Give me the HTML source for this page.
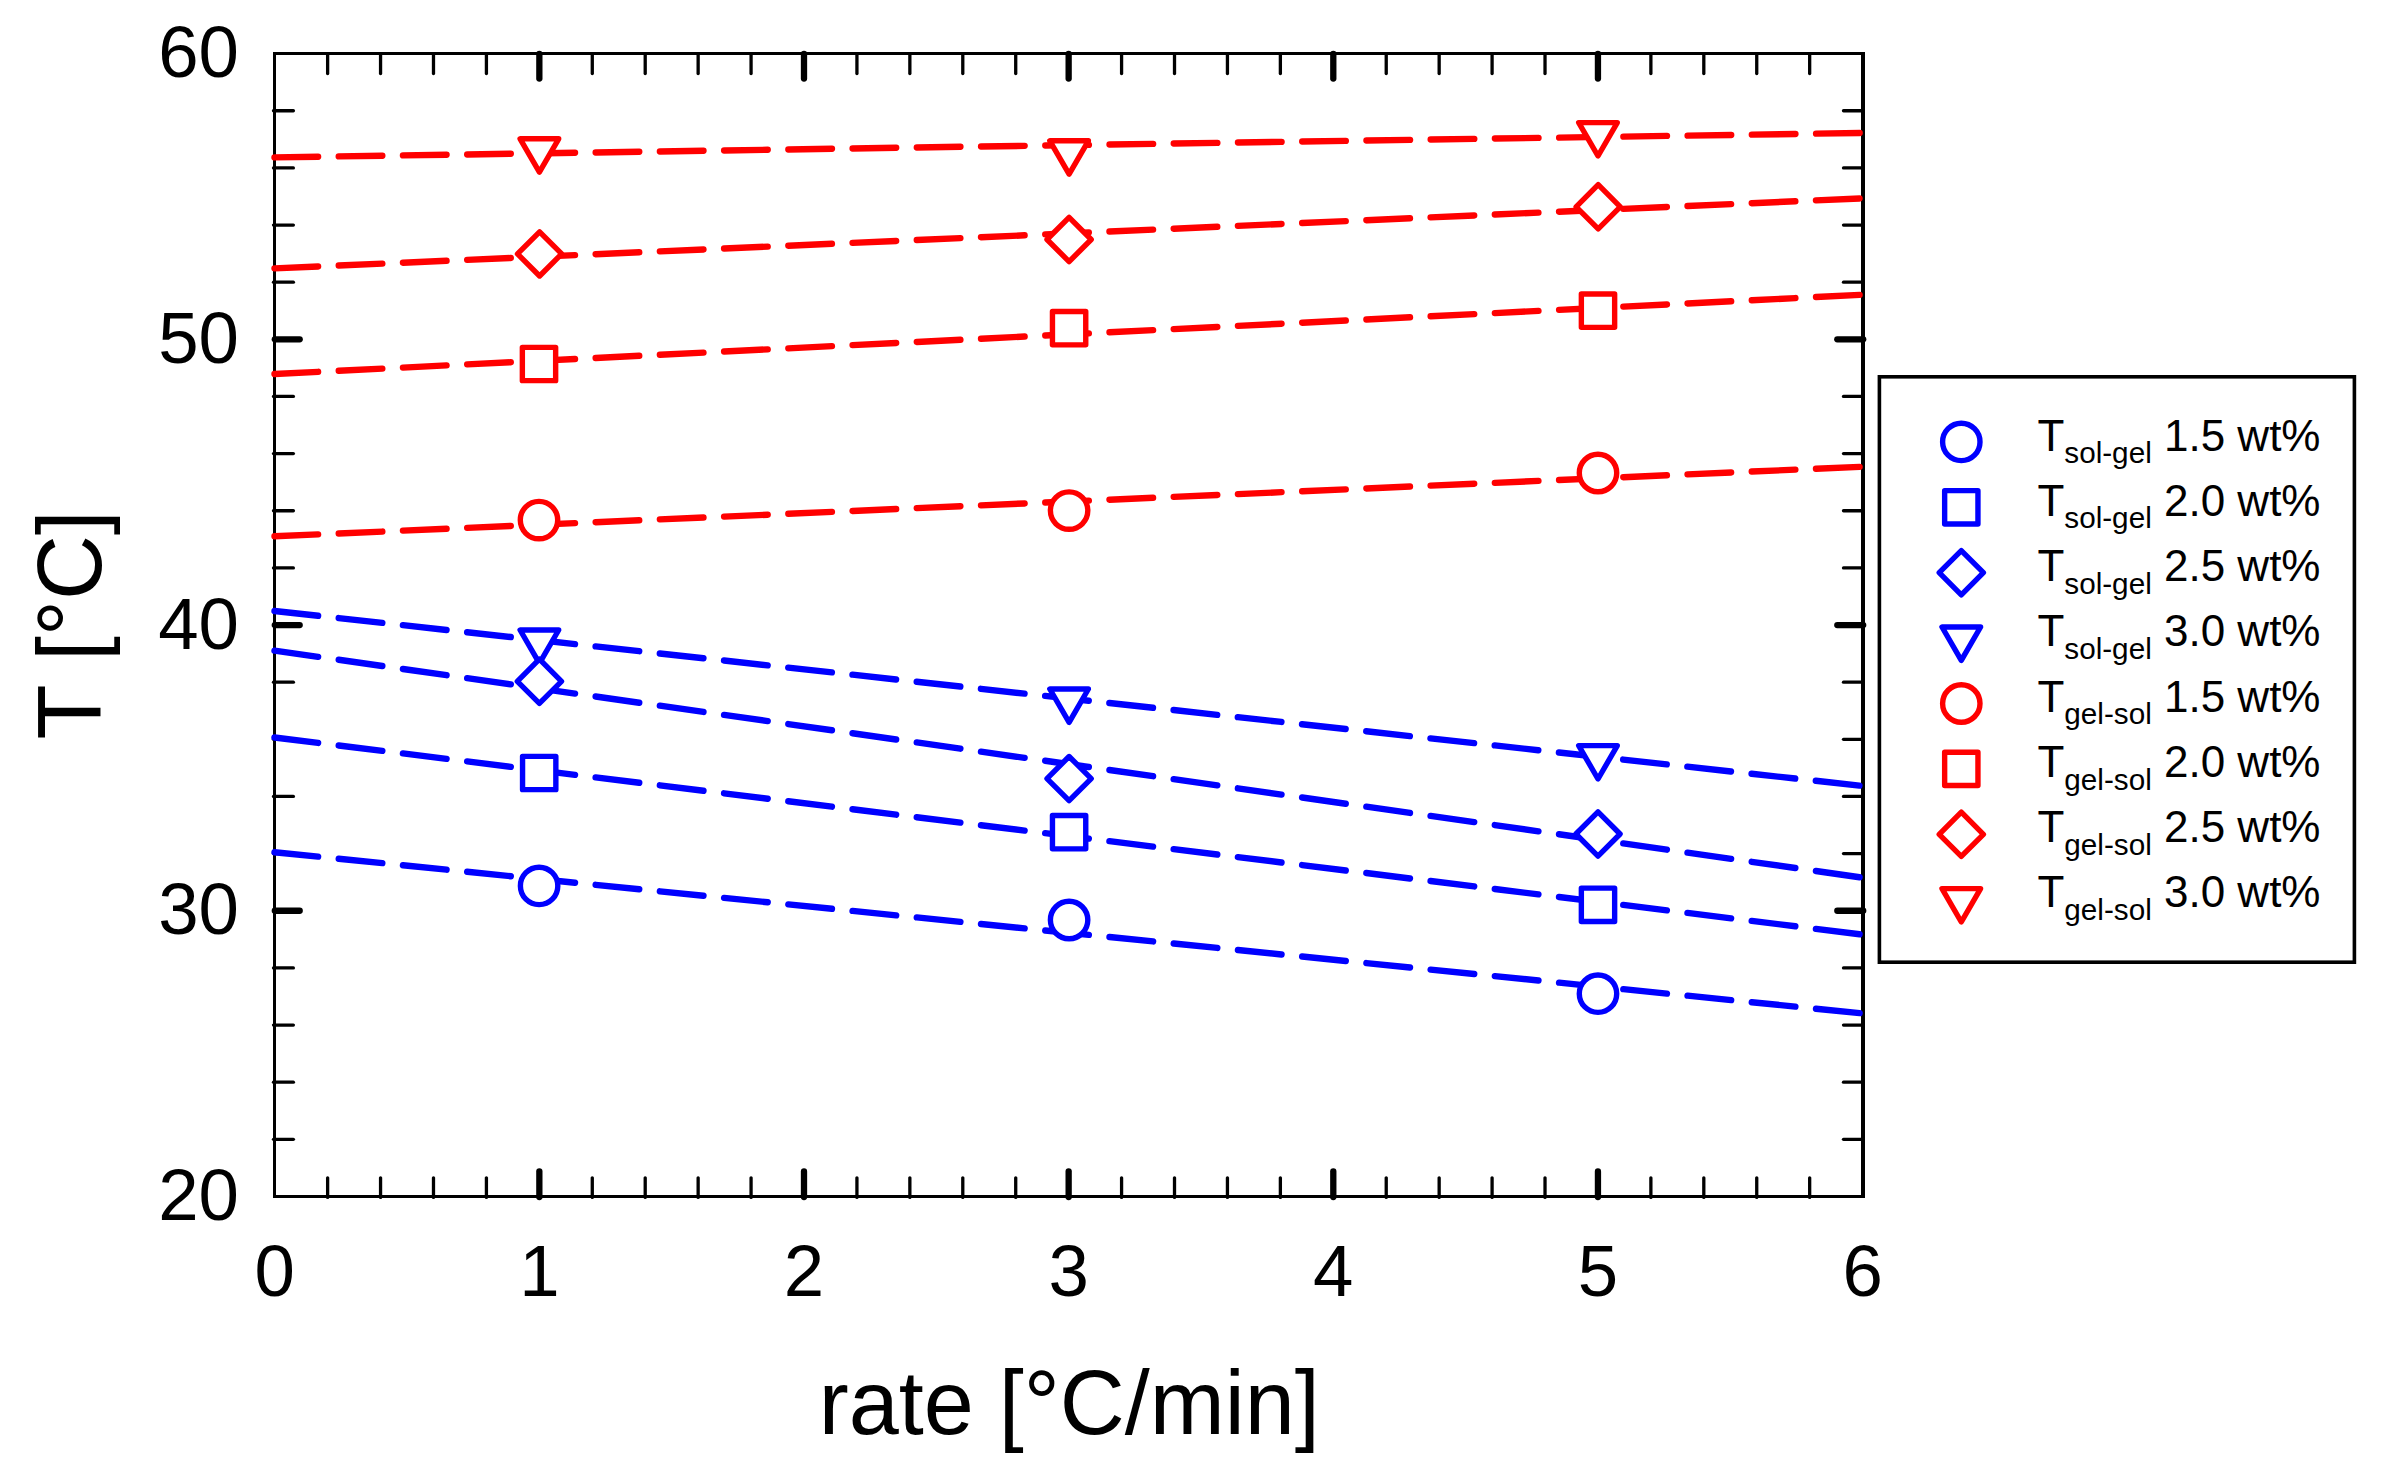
<!DOCTYPE html>
<html lang="en"><head><meta charset="utf-8"><title>T vs rate</title>
<style>html,body{margin:0;padding:0;background:#fff;}body{width:2383px;height:1473px;overflow:hidden;}svg{display:block;}text{font-family:"Liberation Sans", sans-serif;fill:#000;}</style></head><body>
<svg width="2383" height="1473" viewBox="0 0 2383 1473">
<rect x="0" y="0" width="2383" height="1473" fill="#ffffff"/>
<g stroke="#000" stroke-linecap="round" fill="none">
<line x1="327.63" y1="1197.40" x2="327.63" y2="1177.80" stroke-width="3.3"/>
<line x1="327.63" y1="54.10" x2="327.63" y2="73.50" stroke-width="3.3"/>
<line x1="380.56" y1="1197.40" x2="380.56" y2="1177.80" stroke-width="3.3"/>
<line x1="380.56" y1="54.10" x2="380.56" y2="73.50" stroke-width="3.3"/>
<line x1="433.49" y1="1197.40" x2="433.49" y2="1177.80" stroke-width="3.3"/>
<line x1="433.49" y1="54.10" x2="433.49" y2="73.50" stroke-width="3.3"/>
<line x1="486.42" y1="1197.40" x2="486.42" y2="1177.80" stroke-width="3.3"/>
<line x1="486.42" y1="54.10" x2="486.42" y2="73.50" stroke-width="3.3"/>
<line x1="539.35" y1="1197.00" x2="539.35" y2="1171.50" stroke-width="6.3"/>
<line x1="539.35" y1="53.90" x2="539.35" y2="78.50" stroke-width="6.3"/>
<line x1="592.28" y1="1197.40" x2="592.28" y2="1177.80" stroke-width="3.3"/>
<line x1="592.28" y1="54.10" x2="592.28" y2="73.50" stroke-width="3.3"/>
<line x1="645.21" y1="1197.40" x2="645.21" y2="1177.80" stroke-width="3.3"/>
<line x1="645.21" y1="54.10" x2="645.21" y2="73.50" stroke-width="3.3"/>
<line x1="698.14" y1="1197.40" x2="698.14" y2="1177.80" stroke-width="3.3"/>
<line x1="698.14" y1="54.10" x2="698.14" y2="73.50" stroke-width="3.3"/>
<line x1="751.07" y1="1197.40" x2="751.07" y2="1177.80" stroke-width="3.3"/>
<line x1="751.07" y1="54.10" x2="751.07" y2="73.50" stroke-width="3.3"/>
<line x1="804.00" y1="1197.00" x2="804.00" y2="1171.50" stroke-width="6.3"/>
<line x1="804.00" y1="53.90" x2="804.00" y2="78.50" stroke-width="6.3"/>
<line x1="856.93" y1="1197.40" x2="856.93" y2="1177.80" stroke-width="3.3"/>
<line x1="856.93" y1="54.10" x2="856.93" y2="73.50" stroke-width="3.3"/>
<line x1="909.86" y1="1197.40" x2="909.86" y2="1177.80" stroke-width="3.3"/>
<line x1="909.86" y1="54.10" x2="909.86" y2="73.50" stroke-width="3.3"/>
<line x1="962.79" y1="1197.40" x2="962.79" y2="1177.80" stroke-width="3.3"/>
<line x1="962.79" y1="54.10" x2="962.79" y2="73.50" stroke-width="3.3"/>
<line x1="1015.72" y1="1197.40" x2="1015.72" y2="1177.80" stroke-width="3.3"/>
<line x1="1015.72" y1="54.10" x2="1015.72" y2="73.50" stroke-width="3.3"/>
<line x1="1068.65" y1="1197.00" x2="1068.65" y2="1171.50" stroke-width="6.3"/>
<line x1="1068.65" y1="53.90" x2="1068.65" y2="78.50" stroke-width="6.3"/>
<line x1="1121.58" y1="1197.40" x2="1121.58" y2="1177.80" stroke-width="3.3"/>
<line x1="1121.58" y1="54.10" x2="1121.58" y2="73.50" stroke-width="3.3"/>
<line x1="1174.51" y1="1197.40" x2="1174.51" y2="1177.80" stroke-width="3.3"/>
<line x1="1174.51" y1="54.10" x2="1174.51" y2="73.50" stroke-width="3.3"/>
<line x1="1227.44" y1="1197.40" x2="1227.44" y2="1177.80" stroke-width="3.3"/>
<line x1="1227.44" y1="54.10" x2="1227.44" y2="73.50" stroke-width="3.3"/>
<line x1="1280.37" y1="1197.40" x2="1280.37" y2="1177.80" stroke-width="3.3"/>
<line x1="1280.37" y1="54.10" x2="1280.37" y2="73.50" stroke-width="3.3"/>
<line x1="1333.30" y1="1197.00" x2="1333.30" y2="1171.50" stroke-width="6.3"/>
<line x1="1333.30" y1="53.90" x2="1333.30" y2="78.50" stroke-width="6.3"/>
<line x1="1386.23" y1="1197.40" x2="1386.23" y2="1177.80" stroke-width="3.3"/>
<line x1="1386.23" y1="54.10" x2="1386.23" y2="73.50" stroke-width="3.3"/>
<line x1="1439.16" y1="1197.40" x2="1439.16" y2="1177.80" stroke-width="3.3"/>
<line x1="1439.16" y1="54.10" x2="1439.16" y2="73.50" stroke-width="3.3"/>
<line x1="1492.09" y1="1197.40" x2="1492.09" y2="1177.80" stroke-width="3.3"/>
<line x1="1492.09" y1="54.10" x2="1492.09" y2="73.50" stroke-width="3.3"/>
<line x1="1545.02" y1="1197.40" x2="1545.02" y2="1177.80" stroke-width="3.3"/>
<line x1="1545.02" y1="54.10" x2="1545.02" y2="73.50" stroke-width="3.3"/>
<line x1="1597.95" y1="1197.00" x2="1597.95" y2="1171.50" stroke-width="6.3"/>
<line x1="1597.95" y1="53.90" x2="1597.95" y2="78.50" stroke-width="6.3"/>
<line x1="1650.88" y1="1197.40" x2="1650.88" y2="1177.80" stroke-width="3.3"/>
<line x1="1650.88" y1="54.10" x2="1650.88" y2="73.50" stroke-width="3.3"/>
<line x1="1703.81" y1="1197.40" x2="1703.81" y2="1177.80" stroke-width="3.3"/>
<line x1="1703.81" y1="54.10" x2="1703.81" y2="73.50" stroke-width="3.3"/>
<line x1="1756.74" y1="1197.40" x2="1756.74" y2="1177.80" stroke-width="3.3"/>
<line x1="1756.74" y1="54.10" x2="1756.74" y2="73.50" stroke-width="3.3"/>
<line x1="1809.67" y1="1197.40" x2="1809.67" y2="1177.80" stroke-width="3.3"/>
<line x1="1809.67" y1="54.10" x2="1809.67" y2="73.50" stroke-width="3.3"/>
<line x1="273.50" y1="1139.34" x2="293.40" y2="1139.34" stroke-width="3.3"/>
<line x1="1863.00" y1="1139.34" x2="1843.50" y2="1139.34" stroke-width="3.3"/>
<line x1="273.50" y1="1082.19" x2="293.40" y2="1082.19" stroke-width="3.3"/>
<line x1="1863.00" y1="1082.19" x2="1843.50" y2="1082.19" stroke-width="3.3"/>
<line x1="273.50" y1="1025.05" x2="293.40" y2="1025.05" stroke-width="3.3"/>
<line x1="1863.00" y1="1025.05" x2="1843.50" y2="1025.05" stroke-width="3.3"/>
<line x1="273.50" y1="967.90" x2="293.40" y2="967.90" stroke-width="3.3"/>
<line x1="1863.00" y1="967.90" x2="1843.50" y2="967.90" stroke-width="3.3"/>
<line x1="274.80" y1="910.76" x2="299.70" y2="910.76" stroke-width="6.3"/>
<line x1="1863.20" y1="910.76" x2="1837.30" y2="910.76" stroke-width="6.3"/>
<line x1="273.50" y1="853.62" x2="293.40" y2="853.62" stroke-width="3.3"/>
<line x1="1863.00" y1="853.62" x2="1843.50" y2="853.62" stroke-width="3.3"/>
<line x1="273.50" y1="796.47" x2="293.40" y2="796.47" stroke-width="3.3"/>
<line x1="1863.00" y1="796.47" x2="1843.50" y2="796.47" stroke-width="3.3"/>
<line x1="273.50" y1="739.33" x2="293.40" y2="739.33" stroke-width="3.3"/>
<line x1="1863.00" y1="739.33" x2="1843.50" y2="739.33" stroke-width="3.3"/>
<line x1="273.50" y1="682.18" x2="293.40" y2="682.18" stroke-width="3.3"/>
<line x1="1863.00" y1="682.18" x2="1843.50" y2="682.18" stroke-width="3.3"/>
<line x1="274.80" y1="625.04" x2="299.70" y2="625.04" stroke-width="6.3"/>
<line x1="1863.20" y1="625.04" x2="1837.30" y2="625.04" stroke-width="6.3"/>
<line x1="273.50" y1="567.90" x2="293.40" y2="567.90" stroke-width="3.3"/>
<line x1="1863.00" y1="567.90" x2="1843.50" y2="567.90" stroke-width="3.3"/>
<line x1="273.50" y1="510.75" x2="293.40" y2="510.75" stroke-width="3.3"/>
<line x1="1863.00" y1="510.75" x2="1843.50" y2="510.75" stroke-width="3.3"/>
<line x1="273.50" y1="453.61" x2="293.40" y2="453.61" stroke-width="3.3"/>
<line x1="1863.00" y1="453.61" x2="1843.50" y2="453.61" stroke-width="3.3"/>
<line x1="273.50" y1="396.46" x2="293.40" y2="396.46" stroke-width="3.3"/>
<line x1="1863.00" y1="396.46" x2="1843.50" y2="396.46" stroke-width="3.3"/>
<line x1="274.80" y1="339.32" x2="299.70" y2="339.32" stroke-width="6.3"/>
<line x1="1863.20" y1="339.32" x2="1837.30" y2="339.32" stroke-width="6.3"/>
<line x1="273.50" y1="282.18" x2="293.40" y2="282.18" stroke-width="3.3"/>
<line x1="1863.00" y1="282.18" x2="1843.50" y2="282.18" stroke-width="3.3"/>
<line x1="273.50" y1="225.03" x2="293.40" y2="225.03" stroke-width="3.3"/>
<line x1="1863.00" y1="225.03" x2="1843.50" y2="225.03" stroke-width="3.3"/>
<line x1="273.50" y1="167.89" x2="293.40" y2="167.89" stroke-width="3.3"/>
<line x1="1863.00" y1="167.89" x2="1843.50" y2="167.89" stroke-width="3.3"/>
<line x1="273.50" y1="110.74" x2="293.40" y2="110.74" stroke-width="3.3"/>
<line x1="1863.00" y1="110.74" x2="1843.50" y2="110.74" stroke-width="3.3"/>
</g>
<g stroke="#000" fill="none" stroke-linecap="butt">
<line x1="274.50" y1="52.00" x2="274.50" y2="1198.00" stroke-width="3"/>
<line x1="1863.00" y1="52.00" x2="1863.00" y2="1198.00" stroke-width="4"/>
<line x1="273.00" y1="53.50" x2="1865.00" y2="53.50" stroke-width="3"/>
<line x1="273.00" y1="1196.50" x2="1865.00" y2="1196.50" stroke-width="3"/>
</g>
<clipPath id="lc"><rect x="260" y="40" width="1603.10" height="1170"/></clipPath>
<g fill="none" stroke-linecap="round" stroke-width="6.4" clip-path="url(#lc)">
<line x1="274.50" y1="157.40" x2="1875.00" y2="132.71" stroke="#ff0000" stroke-dasharray="43.61 20.63"/>
<line x1="274.50" y1="268.40" x2="1875.00" y2="197.77" stroke="#ff0000" stroke-dasharray="43.64 20.65"/>
<line x1="274.50" y1="374.00" x2="1875.00" y2="294.10" stroke="#ff0000" stroke-dasharray="43.65 20.66"/>
<line x1="274.50" y1="536.30" x2="1875.00" y2="466.17" stroke="#ff0000" stroke-dasharray="43.64 20.65"/>
<line x1="274.50" y1="611.00" x2="1875.00" y2="787.32" stroke="#0000ff" stroke-dasharray="43.86 20.75"/>
<line x1="274.50" y1="650.60" x2="1875.00" y2="879.42" stroke="#0000ff" stroke-dasharray="44.04 20.84"/>
<line x1="274.50" y1="737.50" x2="1875.00" y2="936.19" stroke="#0000ff" stroke-dasharray="43.93 20.79"/>
<line x1="274.50" y1="852.20" x2="1875.00" y2="1014.72" stroke="#0000ff" stroke-dasharray="43.82 20.74"/>
</g>
<g fill="#ffffff" stroke-width="5.4" stroke-linejoin="round">
<path d="M520.10 138.80L558.70 138.80L539.40 172.20Z" stroke="#ff0000"/>
<path d="M1049.80 140.80L1088.40 140.80L1069.10 174.20Z" stroke="#ff0000"/>
<path d="M1578.70 122.60L1617.30 122.60L1598.00 156.00Z" stroke="#ff0000"/>
<path d="M539.60 231.80L561.70 253.90L539.60 276.00L517.50 253.90Z" stroke="#ff0000"/>
<path d="M1069.10 217.40L1091.20 239.50L1069.10 261.60L1047.00 239.50Z" stroke="#ff0000"/>
<path d="M1598.20 184.70L1620.30 206.80L1598.20 228.90L1576.10 206.80Z" stroke="#ff0000"/>
<rect x="522.35" y="347.35" width="33.30" height="33.30" stroke="#ff0000"/>
<rect x="1052.45" y="311.55" width="33.30" height="33.30" stroke="#ff0000"/>
<rect x="1581.35" y="294.05" width="33.30" height="33.30" stroke="#ff0000"/>
<circle cx="539.00" cy="520.10" r="18.7" stroke="#ff0000"/>
<circle cx="1069.10" cy="510.60" r="18.7" stroke="#ff0000"/>
<circle cx="1598.00" cy="473.00" r="18.7" stroke="#ff0000"/>
<path d="M520.10 630.00L558.70 630.00L539.40 663.40Z" stroke="#0000ff"/>
<path d="M1049.80 689.00L1088.40 689.00L1069.10 722.40Z" stroke="#0000ff"/>
<path d="M1578.70 745.60L1617.30 745.60L1598.00 779.00Z" stroke="#0000ff"/>
<path d="M539.40 659.20L561.50 681.30L539.40 703.40L517.30 681.30Z" stroke="#0000ff"/>
<path d="M1069.10 756.50L1091.20 778.60L1069.10 800.70L1047.00 778.60Z" stroke="#0000ff"/>
<path d="M1598.00 811.90L1620.10 834.00L1598.00 856.10L1575.90 834.00Z" stroke="#0000ff"/>
<rect x="522.55" y="756.35" width="33.30" height="33.30" stroke="#0000ff"/>
<rect x="1052.45" y="815.55" width="33.30" height="33.30" stroke="#0000ff"/>
<rect x="1581.35" y="888.15" width="33.30" height="33.30" stroke="#0000ff"/>
<circle cx="539.10" cy="885.90" r="18.7" stroke="#0000ff"/>
<circle cx="1069.10" cy="920.00" r="18.7" stroke="#0000ff"/>
<circle cx="1598.00" cy="993.70" r="18.7" stroke="#0000ff"/>
</g>
<g font-size="72.6">
<text x="238.9" y="1220.08" text-anchor="end">20</text>
<text x="238.9" y="934.36" text-anchor="end">30</text>
<text x="238.9" y="648.64" text-anchor="end">40</text>
<text x="238.9" y="362.92" text-anchor="end">50</text>
<text x="238.9" y="77.20" text-anchor="end">60</text>
<text x="274.70" y="1295.6" text-anchor="middle">0</text>
<text x="539.35" y="1295.6" text-anchor="middle">1</text>
<text x="804.00" y="1295.6" text-anchor="middle">2</text>
<text x="1068.65" y="1295.6" text-anchor="middle">3</text>
<text x="1333.30" y="1295.6" text-anchor="middle">4</text>
<text x="1597.95" y="1295.6" text-anchor="middle">5</text>
<text x="1862.60" y="1295.6" text-anchor="middle">6</text>
</g>
<text x="1069.3" y="1434.2" font-size="90" text-anchor="middle">rate [°C/min]</text>
<text transform="translate(101.2 624.8) rotate(-90)" font-size="90" text-anchor="middle">T [°C]</text>
<rect x="1879.4" y="376.8" width="475.0" height="585.4" fill="#ffffff" stroke="#000" stroke-width="3.6"/>
<g fill="#ffffff" stroke-width="5.4" stroke-linejoin="round">
<circle cx="1961.30" cy="441.90" r="18.7" stroke="#0000ff"/>
<rect x="1944.65" y="490.65" width="33.30" height="33.30" stroke="#0000ff"/>
<path d="M1961.30 550.60L1983.40 572.70L1961.30 594.80L1939.20 572.70Z" stroke="#0000ff"/>
<path d="M1942.00 627.00L1980.60 627.00L1961.30 660.40Z" stroke="#0000ff"/>
<circle cx="1961.30" cy="703.50" r="18.7" stroke="#ff0000"/>
<rect x="1944.65" y="752.25" width="33.30" height="33.30" stroke="#ff0000"/>
<path d="M1961.30 812.20L1983.40 834.30L1961.30 856.40L1939.20 834.30Z" stroke="#ff0000"/>
<path d="M1942.00 888.60L1980.60 888.60L1961.30 922.00Z" stroke="#ff0000"/>
</g>
<g font-size="44">
<text x="2037.4" y="450.60">T<tspan font-size="29.7" dy="12.6">sol-gel</tspan><tspan dy="-12.6"> 1.5 wt%</tspan></text>
<text x="2037.4" y="515.86">T<tspan font-size="29.7" dy="12.6">sol-gel</tspan><tspan dy="-12.6"> 2.0 wt%</tspan></text>
<text x="2037.4" y="581.12">T<tspan font-size="29.7" dy="12.6">sol-gel</tspan><tspan dy="-12.6"> 2.5 wt%</tspan></text>
<text x="2037.4" y="646.38">T<tspan font-size="29.7" dy="12.6">sol-gel</tspan><tspan dy="-12.6"> 3.0 wt%</tspan></text>
<text x="2037.4" y="711.64">T<tspan font-size="29.7" dy="12.6">gel-sol</tspan><tspan dy="-12.6"> 1.5 wt%</tspan></text>
<text x="2037.4" y="776.90">T<tspan font-size="29.7" dy="12.6">gel-sol</tspan><tspan dy="-12.6"> 2.0 wt%</tspan></text>
<text x="2037.4" y="842.16">T<tspan font-size="29.7" dy="12.6">gel-sol</tspan><tspan dy="-12.6"> 2.5 wt%</tspan></text>
<text x="2037.4" y="907.42">T<tspan font-size="29.7" dy="12.6">gel-sol</tspan><tspan dy="-12.6"> 3.0 wt%</tspan></text>
</g>
</svg></body></html>
